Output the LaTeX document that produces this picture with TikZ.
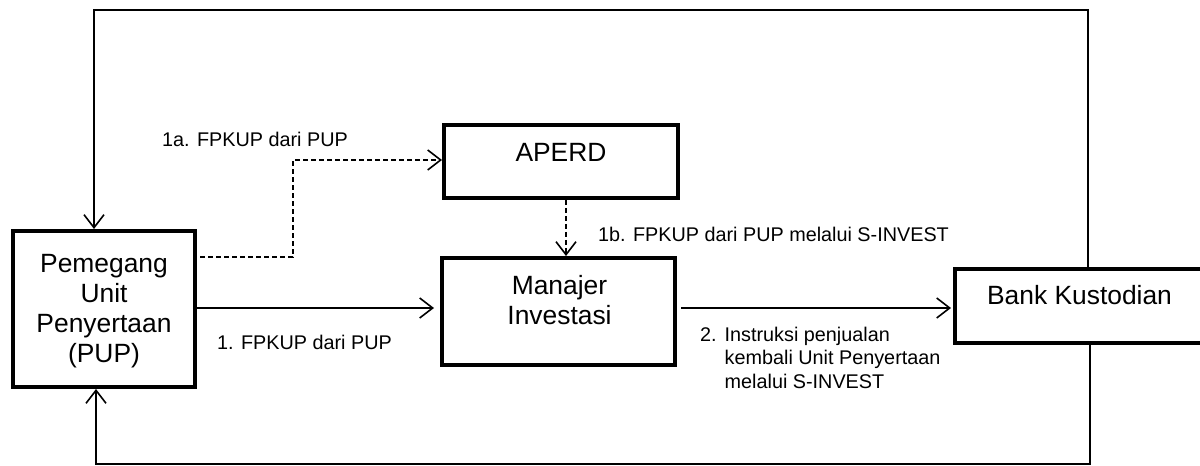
\documentclass[tikz,border=0pt]{standalone}
\usepackage{fontspec}
\setmainfont{Liberation Sans}
\usetikzlibrary{arrows.meta}
\begin{document}
\begin{tikzpicture}[x=1bp,y=-1bp,
  box/.style={draw, line width=4bp, rectangle, inner sep=0pt},
  boxtext/.style={font=\fontsize{26.4bp}{30bp}\selectfont, align=center, inner sep=0pt},
  lbl/.style={font=\fontsize{19.8bp}{23.4bp}\selectfont, inner sep=0pt, anchor=base west},
  wire/.style={line width=1.6bp},
  conn/.style={wire, -{Straight Barb[length=13bp,width=20bp]}},
  dsh/.style={conn, dash pattern=on 5bp off 3bp}]
\useasboundingbox (0,0) rectangle (1200,466);

% boxes
\node[box, minimum width=182bp, minimum height=156bp] (pup) at (104,309) {};
\node[box, minimum width=234bp, minimum height=73bp] (aperd) at (561,161.5) {};
\node[box, minimum width=233bp, minimum height=107bp] (mi) at (558.5,311.5) {};
\node[box, minimum width=262bp, minimum height=74bp] (bank) at (1086,306) {};

% box texts
\node[boxtext] (puptext) at (104,311) {Pemegang\\Unit\\Penyertaan\\(PUP)};
\node[boxtext] (aperdtext) at (561,152.5) {APERD};
\node[boxtext] (mitext) at (559.5,300.5) {Manajer\\Investasi};
\node[boxtext] (banktext) at (1079.5,295.5) {Bank Kustodian};

% helper coordinates
\coordinate (tl) at (94,10);
\coordinate (tr) at (1088,10);
\coordinate (bl) at (96,464);
\coordinate (br) at (1090,464);
\coordinate (d1) at (293,257);
\coordinate (d2) at (293,160);
\coordinate (ax) at (566,200);
\coordinate (r1) at (0,308);

% loops
\draw[conn] (bank.north -| tr) -- (tr) -- (tl) -- (tl |- pup.north);
\draw[conn] (bank.south -| br) -- (br) -- (bl) -- (bl |- pup.south);

% dashed connectors
\draw[dsh, shorten <=3bp] (pup.east |- d1) -- (d1) -- (d2) -- (d2 -| aperd.west);
\draw[dsh] (aperd.south -| ax) -- (mi.north -| ax);

% solid connectors
\draw[conn, shorten >=6bp] (pup.east |- r1) -- (mi.west |- r1);
\draw[conn, shorten <=4bp, shorten >=2bp] (mi.east |- r1) -- (bank.west |- r1);

% labels
\node[lbl] (l1a) at (162,147) {1a. FPKUP dari PUP};
\node[lbl] (l1) at (217,350) {1. FPKUP dari PUP};
\node[lbl] (l1b) at (598,242) {1b. FPKUP dari PUP melalui S-INVEST};
\node[lbl] (l2) at (700,341.5) {\begin{tabular}[t]{@{}l@{\hspace{8bp}}l@{}}2. & Instruksi penjualan\\ & kembali Unit Penyertaan\\ & melalui S-INVEST\end{tabular}};
\end{tikzpicture}
\end{document}
